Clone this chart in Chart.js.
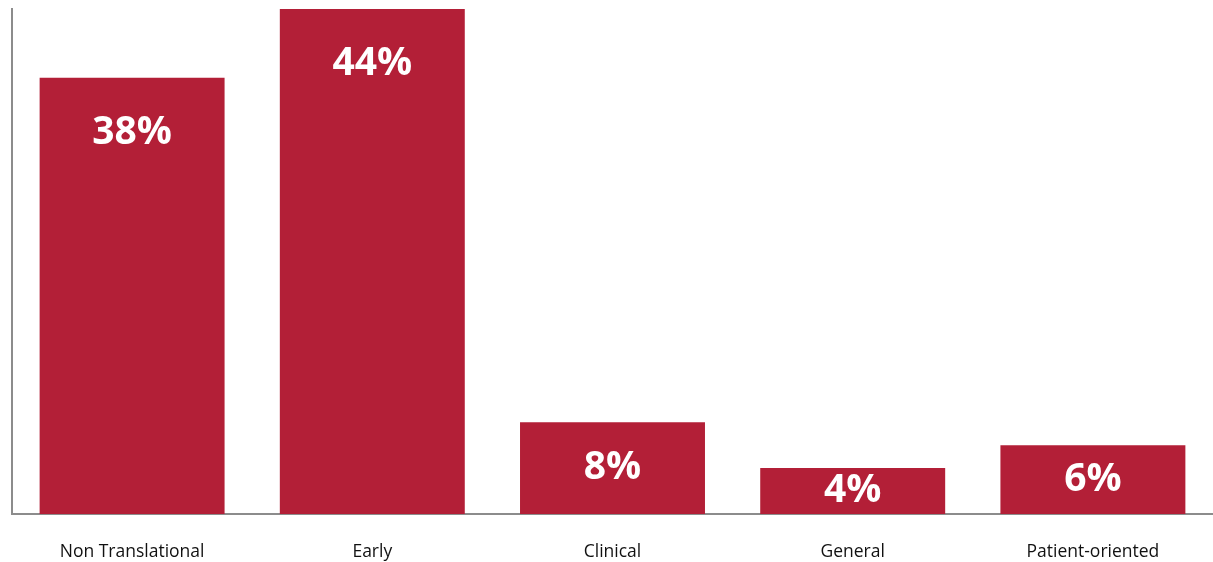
<!DOCTYPE html>
<html>
<head>
<meta charset="utf-8">
<script src="https://cdn.jsdelivr.net/npm/chart.js@4/dist/chart.umd.min.js"></script>
<style>
  html, body { margin: 0; padding: 0; background: #fff; }
  #wrap { width: 1213px; height: 562px; position: relative; }
</style>
</head>
<body>
<div id="wrap"><canvas id="grafico"></canvas></div>
<script>
const categorias = ["Non Translational", "Early", "Clinical", "General", "Patient-oriented"];
const percentuais = [38, 44, 8, 4, 6];
const escalaMax = 44;

// Rótulos brancos dentro das barras
const rotulosBarras = {
  id: "rotulosBarras",
  afterDatasetsDraw(chart) {
    const ctx = chart.ctx;
    const meta = chart.getDatasetMeta(0);
    ctx.save();
    ctx.fillStyle = "#ffffff";
    ctx.font = "bold 39px 'Open Sans'";
    ctx.textAlign = "center";
    ctx.textBaseline = "middle";
    meta.data.forEach((bar, i) => {
      const centro = (bar.y + bar.base) / 2;
      const y = Math.min(centro, bar.y + 55);
      ctx.fillText(percentuais[i] + "%", bar.x, y);
    });
    ctx.restore();
  }
};

document.addEventListener("DOMContentLoaded", () => {
  new Chart(document.getElementById("grafico"), {
    type: "bar",
    data: {
      labels: categorias,
      datasets: [{
        data: percentuais,
        backgroundColor: "#b31f37",
        barPercentage: 0.77,
        categoryPercentage: 1
      }]
    },
    options: {
      responsive: true,
      maintainAspectRatio: false,
      animation: false,
      layout: { padding: { left: 12, right: 0, top: 9, bottom: -29 } },
      plugins: { legend: { display: false }, tooltip: { enabled: false } },
      scales: {
        x: {
          grid: { display: false, drawTicks: false },
          border: { display: true, color: "#8c8c8c", width: 2 },
          ticks: { color: "#111111", font: { family: "'Open Sans'", size: 17.5 }, padding: 28, maxRotation: 0 }
        },
        y: {
          min: 0,
          max: escalaMax,
          grid: { display: false, drawTicks: false },
          border: { display: true, color: "#8c8c8c", width: 2 },
          ticks: { display: false }
        }
      }
    },
    plugins: [rotulosBarras]
  });
});
</script>
</body>
</html>
